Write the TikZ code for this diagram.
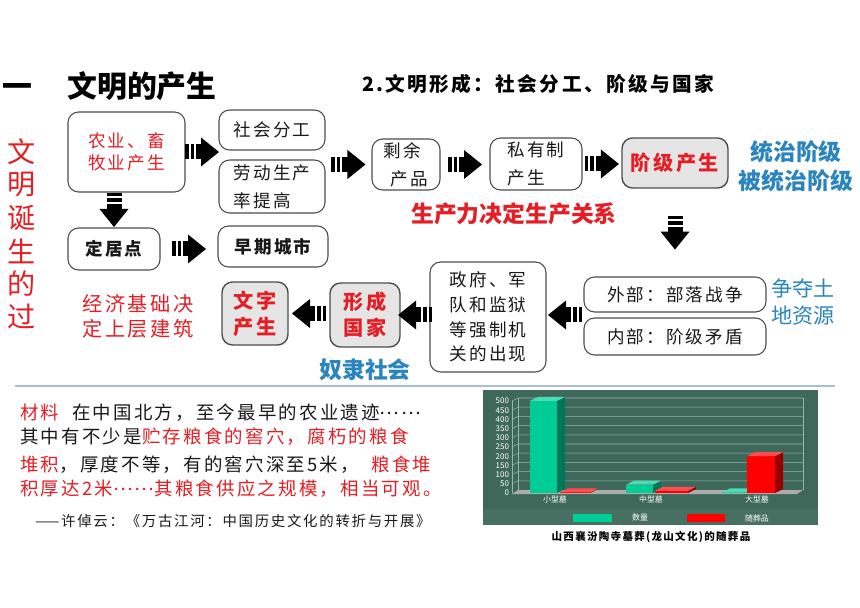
\documentclass[tikz,border=0pt]{standalone}
\usepackage{fontspec}
\setmainfont{Noto Sans CJK SC}
\newfontfamily\spfont[LetterSpace=12]{Noto Sans CJK SC}
\usetikzlibrary{calc}
\definecolor{redtxt}{RGB}{228,30,36}
\definecolor{bluetxt}{RGB}{42,132,190}
\definecolor{inktxt}{gray}{0.1}
\definecolor{boxline}{gray}{0.3}
\definecolor{grayfill}{gray}{0.9}
\definecolor{rulecol}{RGB}{170,190,210}
\definecolor{chartbg}{RGB}{62,104,90}
\definecolor{chartleg}{RGB}{72,112,98}
\definecolor{gridcol}{RGB}{150,182,170}
\definecolor{barg}{RGB}{0,204,150}
\definecolor{bargside}{RGB}{0,118,88}
\definecolor{barr}{RGB}{255,0,0}
\definecolor{barrside}{RGB}{150,0,0}

\newcommand{\chartbar}[5]{%
  \fill[#4] (#1,493) rectangle (#2,{493-0.184*#3});
  \fill[#5] (#2,493) -- (#2+8,489) -- (#2+8,{489-0.184*#3}) -- (#2,{493-0.184*#3}) -- cycle;
  \fill[#4!70!white] (#1,{493-0.184*#3}) -- (#1+8,{489-0.184*#3}) -- (#2+8,{489-0.184*#3}) -- (#2,{493-0.184*#3}) -- cycle;
}
\newcommand{\middots}{\raisebox{0.3em}{……}}

\tikzset{
  stage/.style={draw=boxline, line width=0.6pt, rounded corners=6pt, inner sep=0pt,
    text=inktxt, align=left, font=\spfont\fontsize{10}{14}\selectfont},
  keybox/.style={stage, fill=grayfill, line width=0.8pt, align=center, text=redtxt,
    font=\spfont\bfseries\fontsize{11.5}{15}\selectfont},
  redbold/.style={text=redtxt, font=\bfseries\fontsize{13}{16}\selectfont},
  bluebold/.style={text=bluetxt, font=\bfseries\fontsize{13}{16.5}\selectfont, align=center},
  mat/.style={anchor=west, inner sep=0pt, text=inktxt, font=\spfont\fontsize{10.5}{12}\selectfont},
  chartlbl/.style={text=white, inner sep=1pt, font=\fontsize{4.5}{5}\selectfont},
  fatarrow/.pic={
    \fill[black] (-17,-7.5) rectangle (-13.5,7.5);
    \fill[black] (-11.5,-7.5) rectangle (-8,7.5);
    \fill[black] (-6,-7.5) rectangle (0,7.5);
    \fill[black] (-1,-14.5) -- (17,0) -- (-1,14.5) -- cycle;
  }
}

\begin{document}
\begin{tikzpicture}[x=0.02cm, y=-0.02cm]

  \fill[white] (0,0) rectangle (860,608);
  \useasboundingbox (0,0) rectangle (860,608);

  % heading
  \node (dash) at (17,90) {\bfseries\fontsize{17}{17}\selectfont 一};
  \node (title) at (142,86) {\bfseries\fontsize{17}{17}\selectfont 文明的产生};
  \node (subtitle) at (538,84) {\spfont\bfseries\fontsize{11.2}{12}\selectfont 2.文明形成：社会分工、阶级与国家};

  \foreach \c [count=\i] in {文,明,诞,生,的,过} {
    \node[text=redtxt, font=\fontsize{16}{16}\selectfont] (side\i) at (22, 119+33*\i) {\c};
  }

  % upper chain
  \node[stage, minimum width=2.34cm, minimum height=1.6cm, text=redtxt] (farm) at (126.5,152) {农业、畜\\[-1.5pt]牧业产生};
  \node[stage, minimum width=2.12cm, minimum height=0.8cm] (divide) at (272,130) {社会分工};
  \node[stage, minimum width=2.12cm, minimum height=1.06cm] (labor) at (272,186.5) {\itshape 劳动生产\\[2pt]率提高};
  \node[stage, minimum width=1.36cm, minimum height=1.02cm] (surplus) at (406,164.5) {剩余\\[2pt]\hspace{0.4em}产品};
  \node[stage, minimum width=1.84cm, minimum height=1.04cm] (private) at (536,164) {私有制\\[2pt]产生};
  \node[keybox, minimum width=2.12cm, minimum height=1.0cm] (classes) at (675,163) {阶级产生};

  \node[stage, minimum width=1.84cm, minimum height=0.84cm, font=\spfont\bfseries\fontsize{10}{14}\selectfont] (settle) at (114,249) {定居点};
  \node[stage, minimum width=2.2cm, minimum height=0.82cm, font=\spfont\bfseries\fontsize{10}{14}\selectfont] (city) at (273,246.5) {早期城市};

  \node[bluebold] (ruling) at (796,166) {统治阶级\\被统治阶级};
  \node[redbold] (law1) at (514,214) {生产力决定生产关系};

  % lower chain
  \node[stage, minimum width=3.64cm, minimum height=0.7cm] (outer) at (675,294.5) {外部：部落战争};
  \node[stage, minimum width=3.64cm, minimum height=0.74cm] (inner) at (675,336.5) {内部：阶级矛盾};
  \node[text=bluetxt, align=left, font=\fontsize{12}{15.3}\selectfont] (land) at (803,302) {争夺土\\地资源};
  \node[stage, minimum width=2.32cm, minimum height=2.2cm] (organs) at (488,317) {政府、军\\队和监狱\\等强制机\\关的出现};
  \node[keybox, minimum width=1.4cm, minimum height=1.28cm, font=\spfont\bfseries\fontsize{11.5}{14.7}\selectfont] (state) at (365,315) {形成\\国家};
  \node[keybox, minimum width=1.32cm, minimum height=1.26cm, font=\spfont\bfseries\fontsize{11.5}{14.7}\selectfont] (writing) at (255,313.5) {文字\\产生};
  \node[text=redtxt, align=left, font=\spfont\fontsize{11.5}{14.2}\selectfont] (law2) at (138,316) {经济基础决\\定上层建筑};
  \node[bluebold] (slave) at (365,370) {奴隶社会};

  \coordinate (gap) at ($(outer.south west)!.5!(inner.north west)$);

  % arrows
  \pic at ($(farm.east)!.5!(divide.west |- farm.east)$) {fatarrow};
  \pic at ($(surplus.west)!.5!(labor.east |- surplus.west)$) {fatarrow};
  \pic at ($(surplus.east)!.5!(private.west |- surplus.east)$) {fatarrow};
  \pic at ($(private.east)!.5!(classes.west |- private.east)$) {fatarrow};
  \pic[rotate=-90] at ($(settle.north)!.5!(settle.north |- farm.south)$) {fatarrow};
  \pic at ($(settle.east)!.5!(city.west |- settle.east)$) {fatarrow};
  \pic[rotate=-90] at ($(classes.south)!.5!(outer.north)$) {fatarrow};
  \pic[rotate=180] at ($(gap)!.5!(organs.east |- gap)$) {fatarrow};
  \pic[rotate=180] at ($(state.east)!.5!(organs.west |- state.east)$) {fatarrow};
  \pic[rotate=180] at ($(writing.east)!.5!(state.west |- writing.east)$) {fatarrow};

  \draw[rulecol, line width=1.2pt] (15,386) -- (835,386);

  % source text
  \node[mat] (mat1) at (20,413) {\textcolor{redtxt}{材料}\ \ 在中国北方，至今最早的农业遗迹\middots};
  \node[mat] (mat2) at (20,437) {其中有不少是\textcolor{redtxt}{贮存粮食的窖穴，腐朽的粮食}};
  \node[mat] (mat3) at (20,465) {\textcolor{redtxt}{堆积}，厚度不等，有的窖穴深至5米，\ \ \textcolor{redtxt}{粮食堆}};
  \node[mat, text=redtxt] (mat4) at (20,489) {积厚达2米\middots 其粮食供应之规模，相当可观。};
  \node[mat, font=\spfont\fontsize{8.2}{9}\selectfont] (cite) at (35,521) {——许倬云：《万古江河：中国历史文化的转折与开展》};

  % chart
  \fill[chartbg] (483,390) rectangle (818,525);
  \fill[chartleg] (483,509) rectangle (818,525);
  \fill[gray!65] (512,494) -- (797,494) -- (803,490) -- (518,490) -- cycle;
  \foreach \v in {50,100,...,500} {
    \draw[gridcol, line width=0.3pt] (512,{493-0.184*\v}) -- (518,{490-0.184*\v}) -- (803,{490-0.184*\v});
  }
  \draw[gridcol, line width=0.3pt] (512,493) -- (512,401);
  \draw[gridcol, line width=0.3pt] (518,490) -- (518,398);
  \draw[gridcol, line width=0.3pt] (803,490) -- (803,398);
  \foreach \v in {0,50,...,500} {
    \node[chartlbl, anchor=east] (tick\v) at (511,{493-0.184*\v}) {\v};
  }

  \chartbar{530}{557}{500}{barg}{bargside}
  \chartbar{560}{590}{3}{barr}{barrside}
  \chartbar{626}{653}{45}{barg}{bargside}
  \chartbar{655}{688}{12}{barr}{barrside}
  \chartbar{722}{748}{3}{barg}{bargside}
  \chartbar{747}{775}{200}{barr}{barrside}

  \node[chartlbl] (small) at (555,499) {小型墓};
  \node[chartlbl] (middle) at (651,499) {中型墓};
  \node[chartlbl] (large) at (757,499) {大型墓};

  \fill[barg] (573,514) rectangle (612,522);
  \node[chartlbl] (count) at (640,518) {数量};
  \fill[barr] (687,514) rectangle (725,522);
  \node[chartlbl] (goods) at (757,518) {随葬品};

  \node[font=\spfont\bfseries\fontsize{6}{7}\selectfont] (caption) at (651,537) {山西襄汾陶寺墓葬(龙山文化)的随葬品};

\end{tikzpicture}
\end{document}
